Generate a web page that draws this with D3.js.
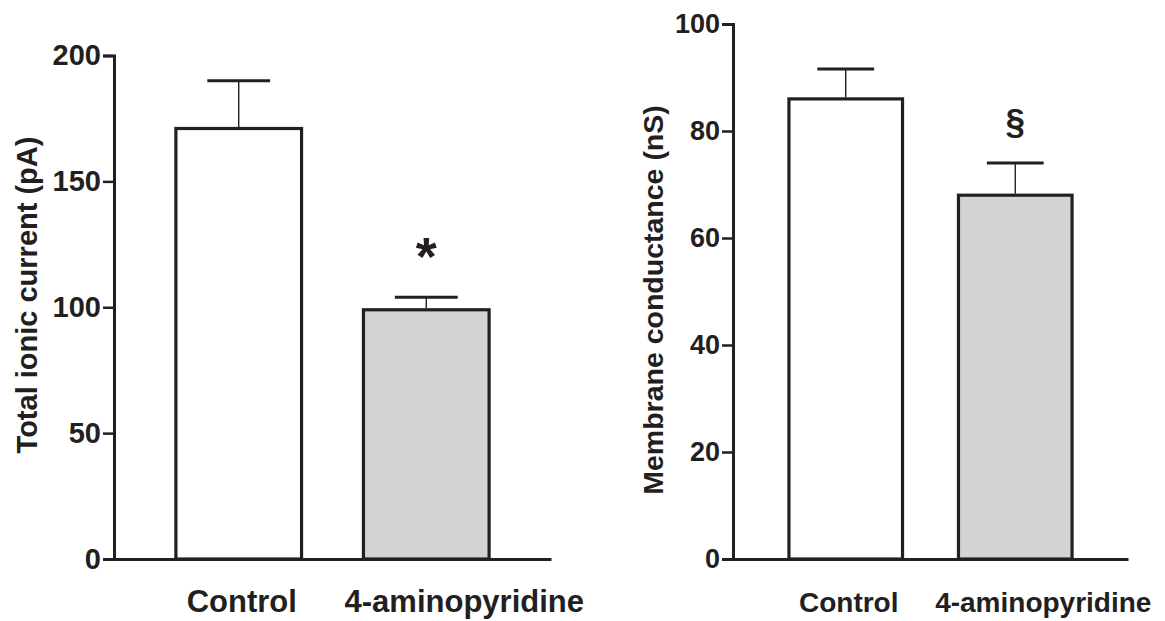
<!DOCTYPE html>
<html>
<head>
<meta charset="utf-8">
<script src="https://cdn.jsdelivr.net/npm/d3@7"></script>
<style>
  body { margin: 0; background: #fff; }
  svg { display: block; font-family: "Liberation Sans", Arial, Helvetica, sans-serif; font-weight: bold; }
</style>
</head>
<body>
<svg width="1165" height="621"></svg>
<script>
'use strict'

// groups and values (mean + SEM)
var groups = ["Control", "4-aminopyridine"];
var currentMean = [171, 99];
var currentSem = [19, 5];
var currentTicks = [0, 50, 100, 150, 200];
var conductMean = [86, 68];
var conductSem = [5.6, 6];
var conductTicks = [0, 20, 40, 60, 80, 100];
var currentSig = ["", "*"];
var conductSig = ["", "\u00a7"];
var fills = ["#ffffff", "#d1d3d4"];

var ink = "#231f20";
var svg = d3.select("svg");

var panels = [
  {
    title: "Total ionic current (pA)", mean: currentMean, sem: currentSem, ticks: currentTicks, sig: currentSig,
    max: 200, xr: [114, 551], yr: [559, 55.5], tickFont: 29, labelFont: 31, labelDx: [3, 38],
    titleX: 37, titleY: 295, titleFont: 29, sigFont: 54, sigGap: 22
  },
  {
    title: "Membrane conductance (nS)", mean: conductMean, sem: conductSem, ticks: conductTicks, sig: conductSig,
    max: 100, xr: [733, 1128], yr: [559, 24], tickFont: 27, labelFont: 28, labelDx: [3, 28],
    titleX: 663, titleY: 300, titleFont: 28.5, sigFont: 35, sigGap: 30
  }
];

panels.forEach(function(p) {
  var x = d3.scaleBand().domain(groups).range(p.xr).padding(0.33);
  var y = d3.scaleLinear().domain([0, p.max]).range(p.yr);
  var g = svg.append("g");

  // bars
  g.selectAll("rect.bar")
    .data(groups)
    .enter()
    .append("rect")
    .attr("class", "bar")
    .attr("x", function(d) { return x(d); })
    .attr("width", x.bandwidth())
    .attr("y", function(d, i) { return y(p.mean[i]); })
    .attr("height", function(d, i) { return y(0) - y(p.mean[i]); })
    .attr("fill", function(d, i) { return fills[i]; })
    .attr("stroke", ink)
    .attr("stroke-width", 3.2);

  // error bars, upward only
  g.selectAll("line.err")
    .data(groups)
    .enter()
    .append("line")
    .attr("class", "err")
    .attr("x1", function(d) { return x(d) + x.bandwidth() / 2; })
    .attr("x2", function(d) { return x(d) + x.bandwidth() / 2; })
    .attr("y1", function(d, i) { return y(p.mean[i]) - 1.5; })
    .attr("y2", function(d, i) { return y(p.mean[i] + p.sem[i]); })
    .attr("stroke", ink)
    .attr("stroke-width", 1.4);

  g.selectAll("line.cap")
    .data(groups)
    .enter()
    .append("line")
    .attr("class", "cap")
    .attr("x1", function(d) { return x(d) + x.bandwidth() / 4; })
    .attr("x2", function(d) { return x(d) + x.bandwidth() * 3 / 4; })
    .attr("y1", function(d, i) { return y(p.mean[i] + p.sem[i]); })
    .attr("y2", function(d, i) { return y(p.mean[i] + p.sem[i]); })
    .attr("stroke", ink)
    .attr("stroke-width", 3);

  // significance marks
  g.selectAll("text.sig")
    .data(groups)
    .enter()
    .append("text")
    .attr("class", "sig")
    .attr("x", function(d) { return x(d) + x.bandwidth() / 2; })
    .attr("y", function(d, i) { return y(p.mean[i] + p.sem[i]) - p.sigGap; })
    .attr("text-anchor", "middle")
    .attr("font-size", p.sigFont)
    .attr("fill", ink)
    .text(function(d, i) { return p.sig[i]; });

  // y axis
  var yAxis = g.append("g")
    .attr("transform", "translate(" + p.xr[0] + ",0)")
    .call(d3.axisLeft(y).tickValues(p.ticks).tickSizeOuter(0).tickSize(11).tickPadding(2));
  yAxis.select(".domain").attr("stroke", ink).attr("stroke-width", 3);
  yAxis.selectAll(".tick line").attr("stroke", ink).attr("stroke-width", 2.5);
  yAxis.selectAll(".tick text")
    .attr("fill", ink)
    .attr("font-size", p.tickFont)
    .attr("font-family", null)
    .attr("font-weight", "bold");

  // x axis
  var xAxis = g.append("g")
    .attr("transform", "translate(0," + p.yr[0] + ")")
    .call(d3.axisBottom(x).tickSize(0).tickSizeOuter(0).tickPadding(0));
  xAxis.attr("font-family", null).attr("font-size", null);
  xAxis.select(".domain").attr("stroke", ink).attr("stroke-width", 3);
  xAxis.selectAll(".tick text")
    .attr("fill", ink)
    .attr("font-size", p.labelFont)
    .attr("y", 53)
    .attr("dy", 0)
    .attr("dx", function(d, i) { return p.labelDx[i]; });
  yAxis.attr("font-family", null);

  // y axis title
  g.append("text")
    .attr("transform", "translate(" + p.titleX + "," + p.titleY + ") rotate(-90)")
    .attr("text-anchor", "middle")
    .attr("font-size", p.titleFont)
    .attr("fill", ink)
    .text(p.title);
});
</script>
</body>
</html>
